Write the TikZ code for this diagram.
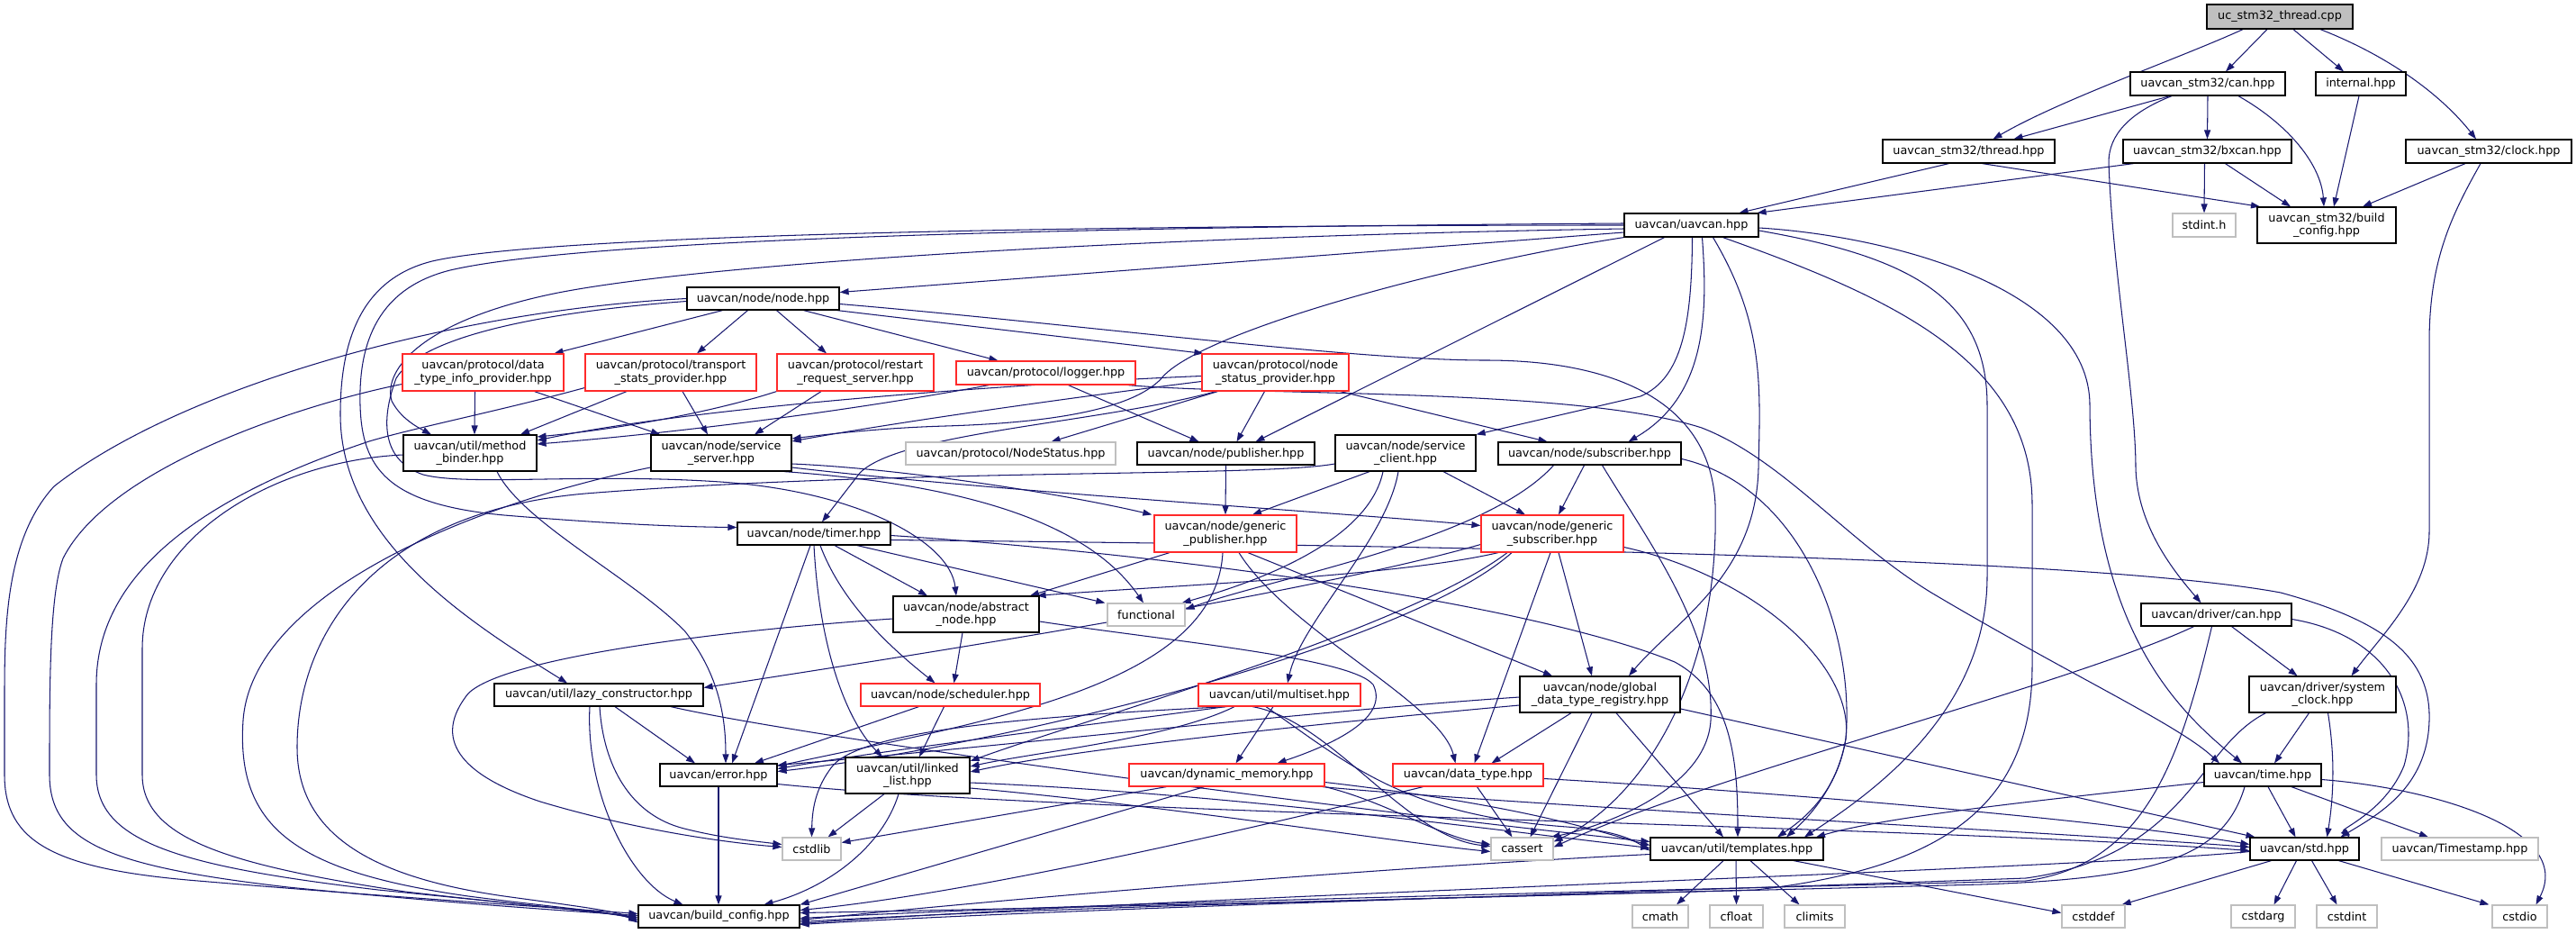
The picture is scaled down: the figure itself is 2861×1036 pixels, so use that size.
\documentclass[tikz,border=0pt]{standalone}
\usepackage{fontspec}
\setmainfont{DejaVu Sans}
\usetikzlibrary{arrows.meta}
\pgfdeclarelayer{back}
\pgfdeclarelayer{edges}
\pgfsetlayers{back,edges,main}
\definecolor{edgec}{HTML}{191970}
\definecolor{grayb}{HTML}{BFBFBF}
\definecolor{redb}{HTML}{FF2A2A}
\definecolor{titlec}{HTML}{BFBFBF}
\begin{document}
\begin{tikzpicture}[x=1pt,y=-1pt,
  nb/.style={draw=black,fill=white,line width=1.2pt,inner sep=0pt,align=center,
    font=\fontsize{12.8}{14.7}\selectfont},
  nr/.style={nb,draw=redb},
  ng/.style={nb,draw=grayb},
  wh/.style 2 args={minimum width=#1pt,minimum height=#2pt},
  e/.style={draw=edgec,line width=1.05pt,-{Triangle[length=10pt,width=7pt]}}]
\begin{pgfonlayer}{back}
\fill[white] (0,0) rectangle (2861,1036);
\end{pgfonlayer}
\useasboundingbox (0,0) rectangle (2861,1036);
% ---------------- nodes
\node[nb,wh={162}{27},fill=titlec] (title) at (2532,18.5) {uc\_stm32\_thread.cpp};
\node[nb,wh={172}{26}] (can) at (2452,93) {uavcan\_stm32/can.hpp};
\node[nb,wh={100}{26}] (internal) at (2622,93) {internal.hpp};
\node[nb,wh={191}{26}] (thread) at (2186.5,168) {uavcan\_stm32/thread.hpp};
\node[nb,wh={187}{26}] (bxcan) at (2451.5,168) {uavcan\_stm32/bxcan.hpp};
\node[nb,wh={184}{26}] (clock) at (2764,168) {uavcan\_stm32/clock.hpp};
\node[ng,wh={70}{26}] (stdint) at (2448,250) {stdint.h};
\node[nb,wh={154}{40}] (stm32bc) at (2584,250) {uavcan\_stm32/build\\\_config.hpp};
\node[nb,wh={149}{26}] (uavcan) at (1878.5,250) {uavcan/uavcan.hpp};
\node[nb,wh={169}{25}] (node) at (847.5,331.5) {uavcan/node/node.hpp};
\node[nr,wh={179}{41}] (dtip) at (536.5,413.5) {uavcan/protocol/data\\\_type\_info\_provider.hpp};
\node[nr,wh={190}{41}] (tsp) at (745,413.5) {uavcan/protocol/transport\\\_stats\_provider.hpp};
\node[nr,wh={174}{41}] (rrs) at (950,413.5) {uavcan/protocol/restart\\\_request\_server.hpp};
\node[nr,wh={199}{26}] (logger) at (1161.5,414) {uavcan/protocol/logger.hpp};
\node[nr,wh={163}{41}] (nsp) at (1416.5,413.5) {uavcan/protocol/node\\\_status\_provider.hpp};
\node[nb,wh={148}{40}] (mb) at (522,503) {uavcan/util/method\\\_binder.hpp};
\node[nb,wh={156}{40}] (ss) at (801,503) {uavcan/node/service\\\_server.hpp};
\node[ng,wh={233}{25}] (nodestatus) at (1122.5,503.5) {uavcan/protocol/NodeStatus.hpp};
\node[nb,wh={197}{25}] (pub) at (1361.5,503.5) {uavcan/node/publisher.hpp};
\node[nb,wh={156}{40}] (sc) at (1561,503) {uavcan/node/service\\\_client.hpp};
\node[nb,wh={203}{25}] (sub) at (1765.5,503.5) {uavcan/node/subscriber.hpp};
\node[nr,wh={158}{41}] (gp) at (1361,592.5) {uavcan/node/generic\\\_publisher.hpp};
\node[nr,wh={158}{41}] (gs) at (1724,592.5) {uavcan/node/generic\\\_subscriber.hpp};
\node[nb,wh={170}{25}] (timer) at (904,592.5) {uavcan/node/timer.hpp};
\node[nb,wh={162}{40}] (an) at (1073,682) {uavcan/node/abstract\\\_node.hpp};
\node[ng,wh={86}{25}] (functional) at (1273,682.5) {functional};
\node[nb,wh={167}{25}] (dcan) at (2461.5,682.5) {uavcan/driver/can.hpp};
\node[nb,wh={232}{25}] (lazy) at (665,771.5) {uavcan/util/lazy\_constructor.hpp};
\node[nr,wh={199}{25}] (sched) at (1055.5,771.5) {uavcan/node/scheduler.hpp};
\node[nr,wh={180}{25}] (multiset) at (1421,771.5) {uavcan/util/multiset.hpp};
\node[nb,wh={178}{40}] (gdtr) at (1777,771) {uavcan/node/global\\\_data\_type\_registry.hpp};
\node[nb,wh={163}{40}] (sysclock) at (2579.5,771) {uavcan/driver/system\\\_clock.hpp};
\node[nb,wh={130}{25}] (error) at (798,860.5) {uavcan/error.hpp};
\node[nb,wh={138}{40}] (ll) at (1008,861) {uavcan/util/linked\\\_list.hpp};
\node[nr,wh={217}{25}] (dm) at (1362.5,860.5) {uavcan/dynamic\_memory.hpp};
\node[nr,wh={167}{25}] (dt) at (1630.5,860.5) {uavcan/data\_type.hpp};
\node[nb,wh={130}{25}] (time) at (2513,860.5) {uavcan/time.hpp};
\node[ng,wh={65}{25}] (cstdlib) at (901.5,942.5) {cstdlib};
\node[ng,wh={69}{25}] (cassert) at (1690.5,942.5) {cassert};
\node[nb,wh={192}{25}] (templates) at (1929,942.5) {uavcan/util/templates.hpp};
\node[nb,wh={121}{25}] (std) at (2559.5,942.5) {uavcan/std.hpp};
\node[ng,wh={174}{25}] (timestamp) at (2732,942.5) {uavcan/Timestamp.hpp};
\node[nb,wh={179}{25}] (bc) at (798.5,1017.5) {uavcan/build\_config.hpp};
\node[ng,wh={62}{25}] (cmath) at (1844,1017.5) {cmath};
\node[ng,wh={59}{25}] (cfloat) at (1928.5,1017.5) {cfloat};
\node[ng,wh={67}{25}] (climits) at (2015.5,1017.5) {climits};
\node[ng,wh={70}{25}] (cstddef) at (2325,1017.5) {cstddef};
\node[ng,wh={71}{25}] (cstdarg) at (2513.5,1017.5) {cstdarg};
\node[ng,wh={67}{25}] (cstdint) at (2606.5,1017.5) {cstdint};
\node[ng,wh={61}{25}] (cstdio) at (2798.5,1017.5) {cstdio};
% ---------------- edges
\begin{pgfonlayer}{edges}
% top
\draw[e] ([xshift=-41pt]title.south) .. controls (2420,65) and (2290,110) .. ([xshift=27pt]thread.north);
\draw[e] ([xshift=-14pt]title.south) -- ([xshift=20pt]can.north);
\draw[e] ([xshift=15pt]title.south) -- ([xshift=-19pt]internal.north);
\draw[e] ([xshift=45pt]title.south) .. controls (2660,65) and (2715,110) .. ([xshift=-14pt]clock.north);
\draw[e] ([xshift=-42pt]can.south) -- ([xshift=50pt]thread.north);
\draw[e] (can.south) -- (bxcan.north);
\draw[e] ([xshift=34pt]can.south) .. controls (2545,140) and (2578,185) .. ([xshift=-3pt]stm32bc.north);
\draw[e] ([xshift=-40pt]can.south) .. controls (2365,125) and (2342,150) .. (2342,180) .. controls (2346,300) and (2372,440) .. (2372,520) .. controls (2374,585) and (2415,635) .. ([xshift=-17pt]dcan.north);
\draw[e] ([xshift=-2pt]internal.south) -- ([xshift=8pt]stm32bc.north);
\draw[e] ([xshift=-22pt]thread.south) -- ([xshift=53pt]uavcan.north);
\draw[e] ([xshift=15pt]thread.south) -- ([xshift=-74pt]stm32bc.north);
\draw[e] ([xshift=-82pt]bxcan.south) -- ([xshift=-2pt]uavcan.north east);
\draw[e] ([xshift=-3pt]bxcan.south) -- (stdint.north);
\draw[e] ([xshift=20pt]bxcan.south) -- ([xshift=-40pt]stm32bc.north);
\draw[e] ([xshift=-26pt]clock.south) -- ([xshift=40pt]stm32bc.north);
\draw[e] ([xshift=-9pt]clock.south) .. controls (2722,240) and (2698,290) .. (2698,380) -- (2698,590) .. controls (2698,655) and (2645,705) .. ([xshift=32pt]sysclock.north);
% uavcan.hpp
\draw[e] ([yshift=-8pt]uavcan.west) -- ([yshift=7pt]node.east);
\draw[e] ([xshift=-30pt]uavcan.south) -- ([xshift=33pt]pub.north);
\draw[e] ([xshift=1pt]uavcan.south) .. controls (1879,360) and (1868,420) .. (1822,440) -- (sc.north east);
\draw[e] ([xshift=12pt]uavcan.south) .. controls (1897,350) and (1895,440) .. ([xshift=43pt]sub.north);
\draw[e] ([xshift=24pt]uavcan.south) .. controls (1960,360) and (1955,430) .. (1953,520) .. controls (1950,640) and (1860,690) .. ([xshift=32pt]gdtr.north);
\draw[e] ([yshift=-3pt]uavcan.east) .. controls (2100,262) and (2321,320) .. (2321,450) .. controls (2322,700) and (2420,790) .. ([xshift=-23pt]time.north);
\draw[e] ([yshift=-6pt]uavcan.east) .. controls (2120,285) and (2207,330) .. (2207,450) -- (2207,640) .. controls (2207,790) and (2080,880) .. ([xshift=75pt]templates.north);
\draw[e] ([xshift=35pt]uavcan.south) .. controls (2100,330) and (2257,400) .. (2257,560) -- (2257,740) .. controls (2257,900) and (2150,965) .. (1950,988) .. controls (1500,1000) and (1100,1010) .. ([yshift=4pt]bc.east);
\draw[e] ([yshift=2pt]uavcan.west) .. controls (1200,252) and (650,265) .. (500,300) .. controls (420,320) and (398,380) .. (400,450) .. controls (402,520) and (430,560) .. (560,572) .. controls (680,582) and (760,585) .. ([yshift=7pt]timer.west);
\draw[e] ([yshift=0pt]uavcan.west) .. controls (1150,250) and (600,262) .. (480,290) .. controls (400,310) and (378,380) .. (378,460) .. controls (378,600) and (520,690) .. ([xshift=-35pt]lazy.north);
\draw[e] ([yshift=-4pt]uavcan.west) .. controls (1300,262) and (800,290) .. (620,325) .. controls (470,355) and (425,410) .. (435,445) .. controls (445,465) and (465,475) .. ([xshift=-43pt]mb.north);
\draw[e] (uavcan.south west) .. controls (1600,295) and (1330,370) .. (1290,420) .. controls (1255,458) and (1150,470) .. (1050,473) .. controls (980,475) and (920,482) .. ([yshift=16pt]ss.east);
% node.hpp
\draw[e] ([xshift=-45pt]node.south) -- ([xshift=79pt]dtip.north);
\draw[e] ([xshift=-17pt]node.south) -- ([xshift=29pt]tsp.north);
\draw[e] ([xshift=15pt]node.south) -- ([xshift=-32pt]rrs.north);
\draw[e] ([xshift=45pt]node.south) -- ([xshift=-53pt]logger.north);
\draw[e] ([xshift=82pt]node.south) -- ([xshift=2pt]nsp.north west);
\draw[e] ([yshift=-6pt]node.east) .. controls (1200,360) and (1500,400) .. (1650,400) .. controls (1800,400) and (1900,450) .. (1905,560) .. controls (1910,760) and (1820,890) .. ([yshift=8pt]cassert.east);
\draw[e] (node.west) .. controls (500,345) and (200,430) .. (60,540) .. controls (5,600) and (5,700) .. (5,780) -- (5,860) .. controls (5,935) and (60,965) .. (220,978) .. controls (420,995) and (620,1008) .. ([yshift=3pt]bc.west);
\draw[e] ([yshift=-3pt]node.west) .. controls (620,345) and (470,370) .. (440,420) .. controls (425,460) and (420,510) .. (470,527) .. controls (520,540) and (650,525) .. (800,535) .. controls (950,545) and (1055,600) .. ([xshift=-11pt]an.north);
% protocol
\draw[e] ([xshift=-9pt]dtip.south) -- ([xshift=5pt]mb.north);
\draw[e] ([xshift=57pt]dtip.south) -- ([xshift=-68pt]ss.north);
\draw[e] ([yshift=-13pt]dtip.west) .. controls (330,450) and (120,520) .. (70,620) .. controls (55,660) and (55,760) .. (55,860) .. controls (55,935) and (120,962) .. (320,985) .. controls (500,1003) and (640,1012) .. ([yshift=1pt]bc.west);
\draw[e] ([xshift=-49pt]tsp.south) -- ([xshift=56pt]mb.north);
\draw[e] ([xshift=13pt]tsp.south) -- ([xshift=-15pt]ss.north);
\draw[e] ([yshift=-17pt]tsp.west) .. controls (560,455) and (460,475) .. (410,490) .. controls (200,560) and (107,650) .. (107,760) -- (107,860) .. controls (107,935) and (200,962) .. (420,988) .. controls (560,1002) and (660,1012) .. ([yshift=-1pt]bc.west);
\draw[e] ([yshift=-2pt]mb.west) .. controls (300,512) and (158,600) .. (158,720) -- (158,860) .. controls (158,930) and (250,960) .. (450,990) .. controls (580,1005) and (670,1012) .. ([yshift=-3pt]bc.west);
\draw[e] ([xshift=30pt]mb.south) .. controls (580,580) and (700,640) .. (760,700) .. controls (800,750) and (806,800) .. ([xshift=8pt]error.north);
\draw[e] ([xshift=-38pt]rrs.south) -- ([xshift=37pt]ss.north);
\draw[e] (rrs.south west) .. controls (800,455) and (700,475) .. ([yshift=18pt]mb.east);
\draw[e] ([xshift=25pt]logger.south) -- ([xshift=-30pt]pub.north);
\draw[e] ([xshift=-63pt]logger.south) .. controls (950,455) and (760,480) .. ([yshift=10pt]mb.east);
\draw[e] ([xshift=-9pt]logger.south east) .. controls (1400,440) and (1750,430) .. (1890,475) .. controls (1980,510) and (2050,600) .. (2145,658) .. controls (2300,750) and (2420,805) .. ([xshift=-48pt]time.north);
\draw[e] ([xshift=-12pt]nsp.south) -- ([xshift=12pt]pub.north);
\draw[e] ([xshift=-64pt]nsp.south) -- ([xshift=45pt]nodestatus.north);
\draw[e] ([xshift=-10pt]nsp.south east) -- ([xshift=-47pt]sub.north);
\draw[e] ([yshift=-10pt]nsp.west) .. controls (1200,440) and (1000,468) .. ([yshift=13pt]ss.east);
\draw[e] ([yshift=-4pt]nsp.west) .. controls (1150,425) and (780,450) .. ([yshift=14pt]mb.east);
\draw[e] ([xshift=-66pt]nsp.south) .. controls (1220,470) and (1000,480) .. (955,525) -- ([xshift=9pt]timer.north);
% publishers / servers
\draw[e] (pub.south) -- (gp.north);
\draw[e] ([yshift=-12pt]ss.east) .. controls (1000,520) and (1180,548) .. ([xshift=-2pt]gp.north west);
\draw[e] ([yshift=-16pt]ss.east) .. controls (1100,545) and (1500,570) .. ([yshift=9pt]gs.west);
\draw[e] ([xshift=70pt]ss.south) .. controls (1100,540) and (1215,590) .. ([xshift=-3pt]functional.north);
\draw[e] ([yshift=-16pt]ss.west) .. controls (520,560) and (280,660) .. (270,800) .. controls (262,920) and (330,968) .. (520,995) .. controls (620,1008) and (680,1012) .. ([yshift=-5pt]bc.west);
\draw[e] ([xshift=-40pt]sc.south) -- ([xshift=30pt]gp.north);
\draw[e] ([xshift=42pt]sc.south) -- ([xshift=-30pt]gs.north);
\draw[e] ([xshift=-25pt]sc.south) .. controls (1520,600) and (1400,645) .. ([xshift=-4pt]functional.north east);
\draw[e] ([xshift=-8pt]sc.south) .. controls (1540,600) and (1445,690) .. ([xshift=9pt]multiset.north);
\draw[e] ([yshift=-12pt]sc.west) .. controls (1400,530) and (1000,520) .. (650,548) .. controls (420,568) and (330,700) .. (330,830) .. controls (330,930) and (420,975) .. (560,995) .. controls (640,1006) and (690,1012) .. ([yshift=-7pt]bc.west);
\draw[e] ([xshift=-6pt]sub.south) -- ([xshift=7pt]gs.north);
\draw[e] ([xshift=-40pt]sub.south) .. controls (1650,600) and (1420,640) .. ([yshift=6pt]functional.east);
\draw[e] ([xshift=14pt]sub.south) .. controls (1830,600) and (1905,700) .. (1900,800) .. controls (1895,880) and (1770,920) .. ([xshift=-3pt]cassert.north east);
\draw[e] ([yshift=-6pt]sub.east) .. controls (2000,540) and (2060,700) .. (2050,820) .. controls (2040,880) and (2000,915) .. ([xshift=55pt]templates.north);
% generic pub / sub
\draw[e] ([xshift=-62pt]gp.south) -- ([xshift=71pt]an.north);
\draw[e] ([xshift=-3pt]gp.south) .. controls (1350,760) and (1100,800) .. ([yshift=10pt]error.east);
\draw[e] ([xshift=15pt]gp.south) .. controls (1430,700) and (1600,780) .. ([xshift=-14pt]dt.north);
\draw[e] ([xshift=25pt]gp.south) -- ([xshift=-53pt]gdtr.north);
\draw[e] ([xshift=-2pt]gs.south) -- ([xshift=7pt]dt.north);
\draw[e] ([xshift=7pt]gs.south) -- ([xshift=-9pt]gdtr.north);
\draw[e] ([yshift=-12pt]gs.west) .. controls (1450,660) and (1000,730) .. ([yshift=8pt]lazy.east);
\draw[e] ([xshift=-60pt]gs.south) .. controls (1550,640) and (1300,650) .. ([xshift=-3pt]an.north east);
\draw[e] ([xshift=-50pt]gs.south) .. controls (1560,700) and (1200,800) .. ([yshift=16pt]ll.east);
\draw[e] ([xshift=-45pt]gs.south) .. controls (1560,720) and (1100,830) .. ([yshift=4pt]error.east);
\draw[e] ([yshift=-15pt]gs.east) .. controls (1950,640) and (2060,740) .. (2050,820) .. controls (2040,885) and (1995,915) .. ([xshift=45pt]templates.north);
% timer
\draw[e] ([xshift=23pt]timer.south) -- ([xshift=-43pt]an.north);
\draw[e] ([xshift=7pt]timer.south) .. controls (935,670) and (990,720) .. ([xshift=-17pt]sched.north);
\draw[e] ([xshift=0pt]timer.south) .. controls (910,720) and (940,800) .. ([xshift=-28pt]ll.north);
\draw[e] ([xshift=-4pt]timer.south) -- ([xshift=15pt]error.north);
\draw[e] ([xshift=48pt]timer.south) -- ([xshift=-2pt]functional.north west);
\draw[e] ([yshift=-7pt]timer.east) .. controls (1500,605) and (2300,615) .. (2533,658) .. controls (2650,690) and (2700,730) .. (2698,800) .. controls (2696,875) and (2640,905) .. ([xshift=40pt]std.north);
\draw[e] ([yshift=-2pt]timer.east) .. controls (1300,615) and (1700,670) .. (1860,735) .. controls (1925,770) and (1930,850) .. ([xshift=1pt]templates.north);
% abstract node, lazy, scheduler
\draw[e] ([xshift=-4pt]an.south) -- ([xshift=4pt]sched.north);
\draw[e] ([yshift=-5pt]an.west) .. controls (800,700) and (560,730) .. (520,770) .. controls (480,820) and (510,860) .. (600,890) .. controls (700,920) and (800,935) .. ([yshift=2pt]cstdlib.west);
\draw[e] ([yshift=-8pt]an.east) .. controls (1300,712) and (1500,730) .. (1525,760) .. controls (1545,800) and (1470,830) .. ([xshift=56pt]dm.north);
\draw[e] ([xshift=18pt]lazy.south) -- ([xshift=-26pt]error.north);
\draw[e] ([xshift=1pt]lazy.south) .. controls (670,850) and (700,905) .. (760,920) .. controls (800,930) and (830,933) .. ([yshift=5pt]cstdlib.west);
\draw[e] ([xshift=-10pt]lazy.south) .. controls (650,880) and (700,980) .. ([xshift=-40pt]bc.north);
\draw[e] ([xshift=80pt]lazy.south) .. controls (900,820) and (1500,900) .. ([yshift=8pt]templates.west);
\draw[e] ([xshift=-35pt]sched.south) -- ([xshift=40pt]error.north);
\draw[e] ([xshift=-7pt]sched.south) -- ([xshift=13pt]ll.north);
% multiset
\draw[e] ([xshift=-7pt]multiset.south) -- ([xshift=10pt]dm.north);
\draw[e] ([xshift=-60pt]multiset.south) .. controls (1250,800) and (1000,830) .. ([yshift=7pt]error.east);
\draw[e] ([xshift=-50pt]multiset.south) .. controls (1300,820) and (1150,835) .. ([yshift=10pt]ll.east);
\draw[e] ([xshift=-58pt]multiset.south) .. controls (1150,795) and (960,810) .. (925,850) .. controls (905,875) and (902,900) .. (cstdlib.north);
\draw[e] ([xshift=-30pt]multiset.south) .. controls (1480,800) and (1560,930) .. ([yshift=3pt]cassert.west);
\draw[e] ([xshift=-15pt]multiset.south) .. controls (1500,850) and (1560,905) .. (1740,918) .. controls (1790,922) and (1810,930) .. ([yshift=-2pt]templates.west);
% dynamic memory, data type
\draw[e] ([xshift=-67pt]dm.south) -- ([yshift=7pt]cstdlib.east);
\draw[e] ([xshift=-25pt]dm.south) -- (bc.north east);
\draw[e] (dm.south east) .. controls (1540,890) and (1600,930) .. ([yshift=5pt]cassert.west);
\draw[e] ([yshift=-8pt]dm.east) .. controls (1700,895) and (1780,925) .. ([yshift=4pt]templates.west);
\draw[e] ([xshift=-3pt]dm.south east) .. controls (1700,895) and (2300,925) .. ([yshift=2pt]std.west);
\draw[e] ([xshift=10pt]dt.south) -- ([xshift=-11pt]cassert.north);
\draw[e] ([xshift=-50pt]dt.south) .. controls (1450,905) and (1100,990) .. ([yshift=7pt]bc.east);
\draw[e] ([yshift=-4pt]dt.east) .. controls (1900,875) and (2300,905) .. ([yshift=5pt]std.west);
% global data type registry
\draw[e] ([xshift=-32pt]gdtr.south) -- ([xshift=26pt]dt.north);
\draw[e] ([xshift=-9pt]gdtr.south) -- ([xshift=9pt]cassert.north);
\draw[e] ([xshift=18pt]gdtr.south) -- ([xshift=-15pt]templates.north);
\draw[e] ([yshift=-16pt]gdtr.east) -- ([xshift=-55pt]std.north);
\draw[e] ([yshift=-3pt]gdtr.west) .. controls (1450,790) and (1100,830) .. ([yshift=11pt]error.east);
\draw[e] ([yshift=-12pt]gdtr.west) .. controls (1500,800) and (1200,830) .. ([yshift=4pt]ll.east);
% linked list, error
\draw[e] ([xshift=-26pt]ll.south) -- ([xshift=18pt]cstdlib.north);
\draw[e] ([xshift=-10pt]ll.south) .. controls (980,940) and (920,985) .. ([xshift=50pt]bc.north);
\draw[e] ([yshift=-8pt]ll.east) .. controls (1350,880) and (1650,920) .. ([yshift=1pt]templates.west);
\draw[e] ([yshift=-14pt]ll.east) .. controls (1300,895) and (1550,935) .. ([yshift=-3pt]cassert.west);
\draw[e] (error.south) -- ([xshift=-0.5pt]bc.north);
\draw[e] ([yshift=-10pt]error.east) .. controls (1200,905) and (2100,915) .. ([yshift=-2pt]std.west);
% templates, std
\draw[e] ([xshift=-15pt]templates.south) -- ([xshift=18pt]cmath.north);
\draw[e] ([xshift=-1pt]templates.south) -- (cfloat.north);
\draw[e] ([xshift=15pt]templates.south) -- ([xshift=-17pt]climits.north);
\draw[e] ([xshift=63pt]templates.south) -- ([yshift=4pt]cstddef.west);
\draw[e] ([yshift=-6pt]templates.west) .. controls (1500,965) and (1100,1000) .. ([yshift=-4pt]bc.east);
\draw[e] ([xshift=-37pt]std.south) -- ([xshift=-4pt]cstddef.north east);
\draw[e] ([xshift=-9pt]std.south) -- ([xshift=12pt]cstdarg.north);
\draw[e] ([xshift=8pt]std.south) -- ([xshift=-11pt]cstdint.north);
\draw[e] ([xshift=38pt]std.south) -- ([xshift=-3pt]cstdio.north west);
\draw[e] ([yshift=-3pt]std.west) .. controls (2300,965) and (1300,995) .. ([yshift=-8pt]bc.east);
% time
\draw[e] ([xshift=6pt]time.south) -- ([xshift=-10pt]std.north);
\draw[e] ([xshift=32pt]time.south) -- ([xshift=-35pt]timestamp.north);
\draw[e] ([yshift=-5pt]time.east) .. controls (2700,875) and (2860,920) .. ([xshift=18pt]cstdio.north);
\draw[e] ([yshift=-8pt]time.west) .. controls (2300,885) and (2100,905) .. ([xshift=88pt]templates.north);
\draw[e] ([xshift=-20pt]time.south) .. controls (2470,950) and (2400,975) .. (2200,982) .. controls (1700,995) and (1200,1005) .. ([yshift=-6pt]bc.east);
% system clock, driver can
\draw[e] ([xshift=-15pt]sysclock.south) -- ([xshift=13pt]time.north);
\draw[e] ([xshift=6pt]sysclock.south) .. controls (2595,850) and (2590,895) .. ([xshift=25pt]std.north);
\draw[e] ([xshift=-63pt]sysclock.south) .. controls (2440,830) and (2430,950) .. (2250,975) .. controls (1700,995) and (1200,1008) .. ([yshift=-9pt]bc.east);
\draw[e] ([xshift=17pt]dcan.south) -- ([xshift=-28pt]sysclock.north);
\draw[e] ([yshift=-5pt]dcan.east) .. controls (2650,705) and (2690,780) .. (2670,850) .. controls (2650,900) and (2600,920) .. ([xshift=50pt]std.north);
\draw[e] ([xshift=-25pt]dcan.south) .. controls (2300,760) and (1900,860) .. ([yshift=2pt]cassert.east);
\draw[e] ([xshift=-5pt]dcan.south) .. controls (2420,850) and (2380,960) .. (2250,978) .. controls (1700,992) and (1200,1003) .. ([yshift=-2pt]bc.east);
\end{pgfonlayer}
\end{tikzpicture}
\end{document}
